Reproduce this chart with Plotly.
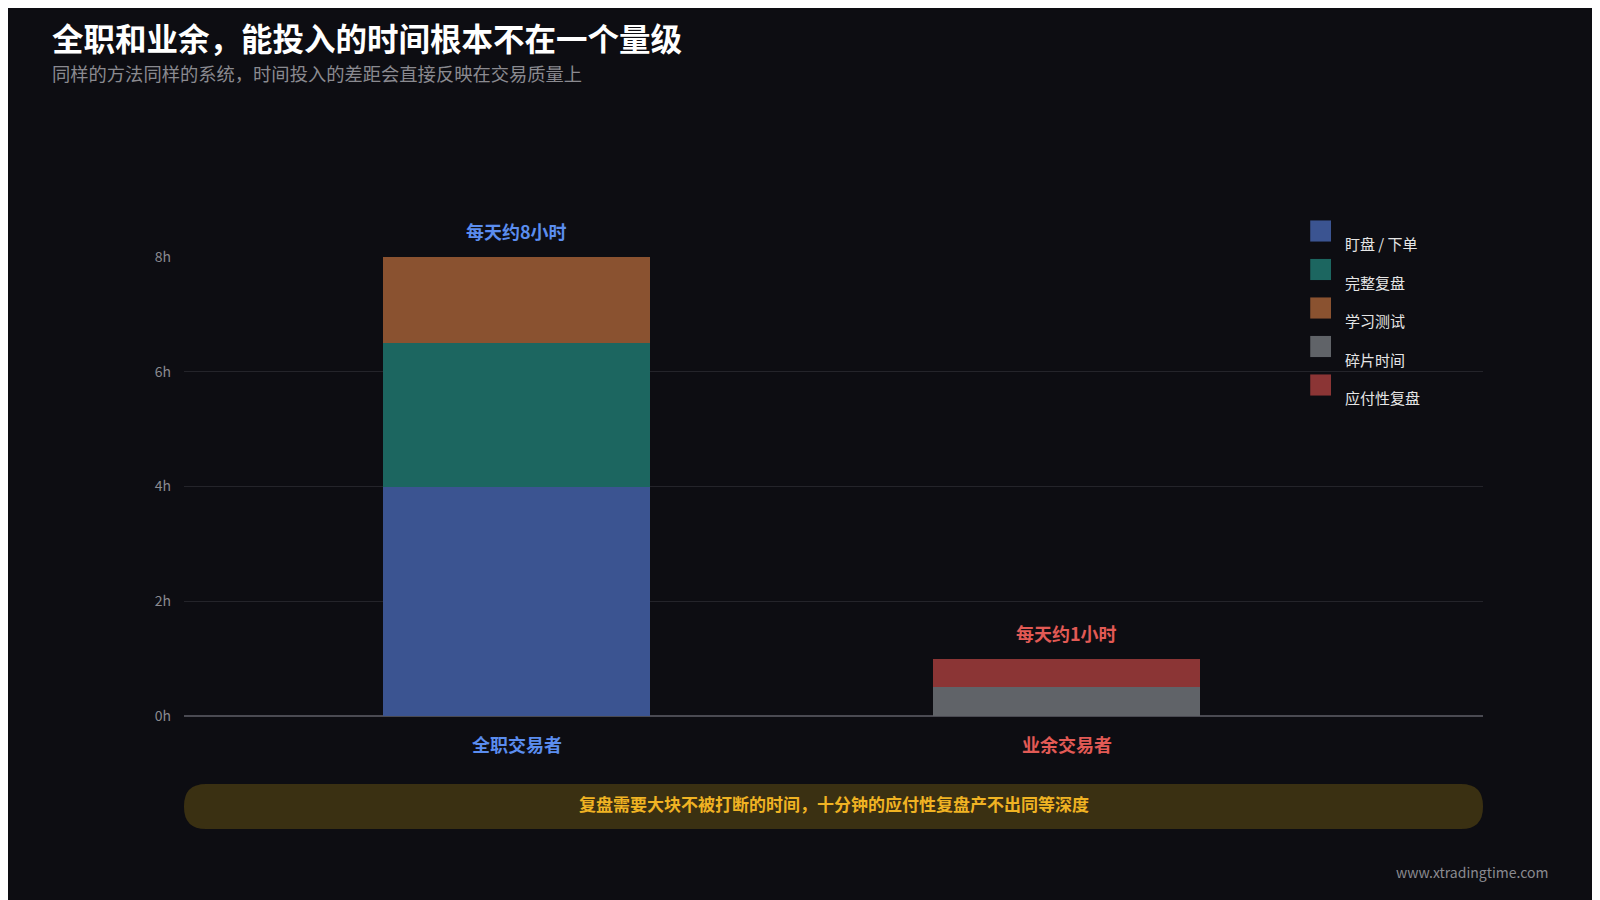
import plotly.graph_objects as go

categories = ["全职交易者", "业余交易者"]
series_names = ["盯盘 / 下单", "完整复盘", "学习测试", "碎片时间", "应付性复盘"]
series_values = [[4, 0], [2.5, 0], [1.5, 0], [0, 0.5], [0, 0.5]]
colors = ["#3b5491", "#1c6660", "#8a5230", "#606368", "#8b3535"]
totals_labels = ["每天约8小时", "每天约1小时"]
totals = [8, 1]
label_colors = ["#5b8def", "#e25a55"]
tick_vals = [0, 2, 4, 6, 8]
tick_text = ["0h", "2h", "4h", "6h", "8h"]
FONT = "Noto Sans CJK SC"

fig = go.Figure()
for name, vals, c in zip(series_names, series_values, colors):
    fig.add_bar(x=[0, 1], y=vals, name=name, marker=dict(color=c, line=dict(width=0)),
                width=0.486, showlegend=False)

for i, (cat, t, lab, lc) in enumerate(zip(categories, totals, totals_labels, label_colors)):
    fig.add_annotation(x=i, y=t, text=f"<b>{lab}</b>", showarrow=False, yshift=26,
                       font=dict(size=18, color=lc, family=FONT))
    fig.add_annotation(x=i, y=0, yref="y", text=f"<b>{cat}</b>", showarrow=False, yshift=-28,
                       font=dict(size=18, color=lc, family=FONT))

# custom legend
for i, (name, c) in enumerate(zip(series_names, colors)):
    py = 231 + i * 38.5
    yp = (716 - py) / 459
    fig.add_shape(type="rect", xref="paper", yref="paper", x0=0.867, x1=0.883,
                  y0=yp - 0.023, y1=yp + 0.023, fillcolor=c, line=dict(width=0), layer="above")
    fig.add_annotation(xref="paper", yref="paper", x=0.8925, y=yp, text=name, showarrow=False,
                       xanchor="left", font=dict(size=15, color="#e6e6e6", family=FONT))

# banner
x0, x1, y0, y1 = 0.0, 1.0, -0.246, -0.148
rx, ry = 22 / 1299, 22 / 459
path = (f"M {x0+rx},{y0} L {x1-rx},{y0} Q {x1},{y0} {x1},{y0+ry} L {x1},{y1-ry} Q {x1},{y1} {x1-rx},{y1} "
        f"L {x0+rx},{y1} Q {x0},{y1} {x0},{y1-ry} L {x0},{y0+ry} Q {x0},{y0} {x0+rx},{y0} Z")
fig.add_shape(type="path", xref="paper", yref="paper", path=path, fillcolor="#3a3012", line=dict(width=0))
fig.add_annotation(xref="paper", yref="paper", x=0.5, y=(y0 + y1) / 2, yshift=-12, showarrow=False,
                   text="<b>复盘需要大块不被打断的时间，十分钟的应付性复盘产不出同等深度</b>",
                   font=dict(size=17, color="#f0b323", family=FONT))

fig.add_annotation(xref="paper", yref="paper", x=-0.103, y=1.533, xanchor="left", showarrow=False,
                   text="<b>全职和业余，能投入的时间根本不在一个量级</b>",
                   font=dict(size=31.5, color="#ffffff", family=FONT))
fig.add_annotation(xref="paper", yref="paper", x=-0.103, y=1.433, xanchor="left", showarrow=False,
                   text="同样的方法同样的系统，时间投入的差距会直接反映在交易质量上",
                   font=dict(size=18.3, color="#8a8a90", family=FONT))
fig.add_annotation(xref="paper", yref="paper", x=1.052, y=-0.365, xanchor="right", showarrow=False,
                   text="www.xtradingtime.com", font=dict(size=14, color="#8a8a90", family=FONT))

fig.update_layout(
    barmode="stack", width=1600, height=900,
    margin=dict(l=176, r=125, t=249, b=192),
    paper_bgcolor="#0d0d12", plot_bgcolor="#0d0d12",
    font=dict(family=FONT, color="#bbbbbb"),
    xaxis=dict(range=[-0.605, 1.757], showticklabels=False, showgrid=False, zeroline=False, showline=False),
    yaxis=dict(range=[0, 8], tickvals=tick_vals, ticktext=tick_text, gridcolor="#24242a",
               zeroline=True, zerolinecolor="#4a4a52", zerolinewidth=2, ticklabelstandoff=12,
               tickfont=dict(size=14, color="#8a8a90"), ticks="", ticklen=0, showline=False),
)
fig.write_html("out.html")
